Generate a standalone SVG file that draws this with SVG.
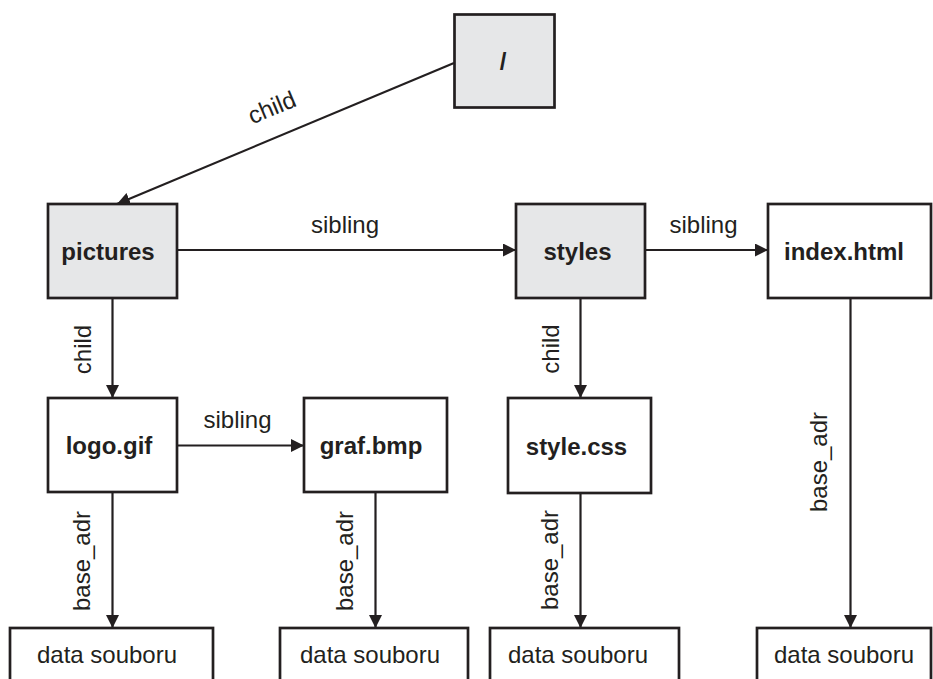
<svg xmlns="http://www.w3.org/2000/svg" width="933" height="679" viewBox="0 0 933 679">
<defs>
<marker id="arr" markerUnits="userSpaceOnUse" markerWidth="13" markerHeight="13" refX="13" refY="6.5" orient="auto">
<path d="M0,0 L13,6.5 L0,13 z" fill="#231f20"/>
</marker>
<style>
.box{stroke:#231f20;stroke-width:2.7;fill:#ffffff}
.dir{fill:#e6e7e8}
.bold{font-family:"Liberation Sans",Arial,sans-serif;font-weight:bold;font-size:24px;fill:#231f20;text-anchor:middle}
.lbl{font-family:"Liberation Sans",Arial,sans-serif;font-size:24px;fill:#231f20;text-anchor:middle}
.ln{stroke:#231f20;stroke-width:2.2;fill:none;marker-end:url(#arr)}
</style>
</defs>
<rect width="933" height="679" fill="#ffffff"/>
<g id="connectors">
<line class="ln" x1="454" y1="63" x2="117" y2="204"/>
<line class="ln" x1="177" y1="250" x2="516" y2="250"/>
<line class="ln" x1="645" y1="250" x2="768" y2="250"/>
<line class="ln" x1="112.5" y1="298" x2="112.5" y2="398"/>
<line class="ln" x1="177" y1="445.5" x2="304" y2="445.5"/>
<line class="ln" x1="580.5" y1="298" x2="580.5" y2="398"/>
<line class="ln" x1="112.5" y1="492" x2="112.5" y2="628"/>
<line class="ln" x1="375.5" y1="492" x2="375.5" y2="628"/>
<line class="ln" x1="580.5" y1="493" x2="580.5" y2="628"/>
<line class="ln" x1="850.5" y1="298" x2="850.5" y2="628"/>
<text class="lbl" transform="translate(275,115) rotate(-22.6)">child</text>
<text class="lbl" x="345" y="233">sibling</text>
<text class="lbl" x="703.5" y="233">sibling</text>
<text class="lbl" x="237.5" y="428">sibling</text>
<text class="lbl" transform="translate(91,349.5) rotate(-90)">child</text>
<text class="lbl" transform="translate(559,349) rotate(-90)">child</text>
<text class="lbl" transform="translate(90,561) rotate(-90)">base_adr</text>
<text class="lbl" transform="translate(353,561) rotate(-90)">base_adr</text>
<text class="lbl" transform="translate(558,560) rotate(-90)">base_adr</text>
<text class="lbl" transform="translate(827,462) rotate(-90)">base_adr</text>
</g>
<g id="root">
<rect class="box dir" x="454.5" y="14.5" width="100" height="93"/>
<text class="bold" x="503" y="70">/</text>
</g>
<g id="pictures">
<rect class="box dir" x="48" y="204" width="129" height="94"/>
<text class="bold" x="108" y="260">pictures</text>
</g>
<g id="styles">
<rect class="box dir" x="516" y="204" width="129" height="94"/>
<text class="bold" x="577.5" y="260">styles</text>
</g>
<g id="index">
<rect class="box" x="768" y="204" width="163" height="94"/>
<text class="bold" x="844" y="260">index.html</text>
</g>
<g id="logo">
<rect class="box" x="48" y="398" width="129" height="94"/>
<text class="bold" x="109" y="454">logo.gif</text>
</g>
<g id="graf">
<rect class="box" x="304" y="398" width="143" height="94"/>
<text class="bold" x="371" y="454">graf.bmp</text>
</g>
<g id="stylecss">
<rect class="box" x="508" y="398" width="143" height="95"/>
<text class="bold" x="576.5" y="455">style.css</text>
</g>
<g id="data1">
<rect class="box" x="10" y="628" width="203" height="70"/>
<text class="lbl" x="107" y="663">data souboru</text>
</g>
<g id="data2">
<rect class="box" x="280" y="628" width="188" height="70"/>
<text class="lbl" x="370" y="663">data souboru</text>
</g>
<g id="data3">
<rect class="box" x="490" y="628" width="189" height="70"/>
<text class="lbl" x="578" y="663">data souboru</text>
</g>
<g id="data4">
<rect class="box" x="757" y="628" width="174" height="70"/>
<text class="lbl" x="844" y="663">data souboru</text>
</g>
</svg>
